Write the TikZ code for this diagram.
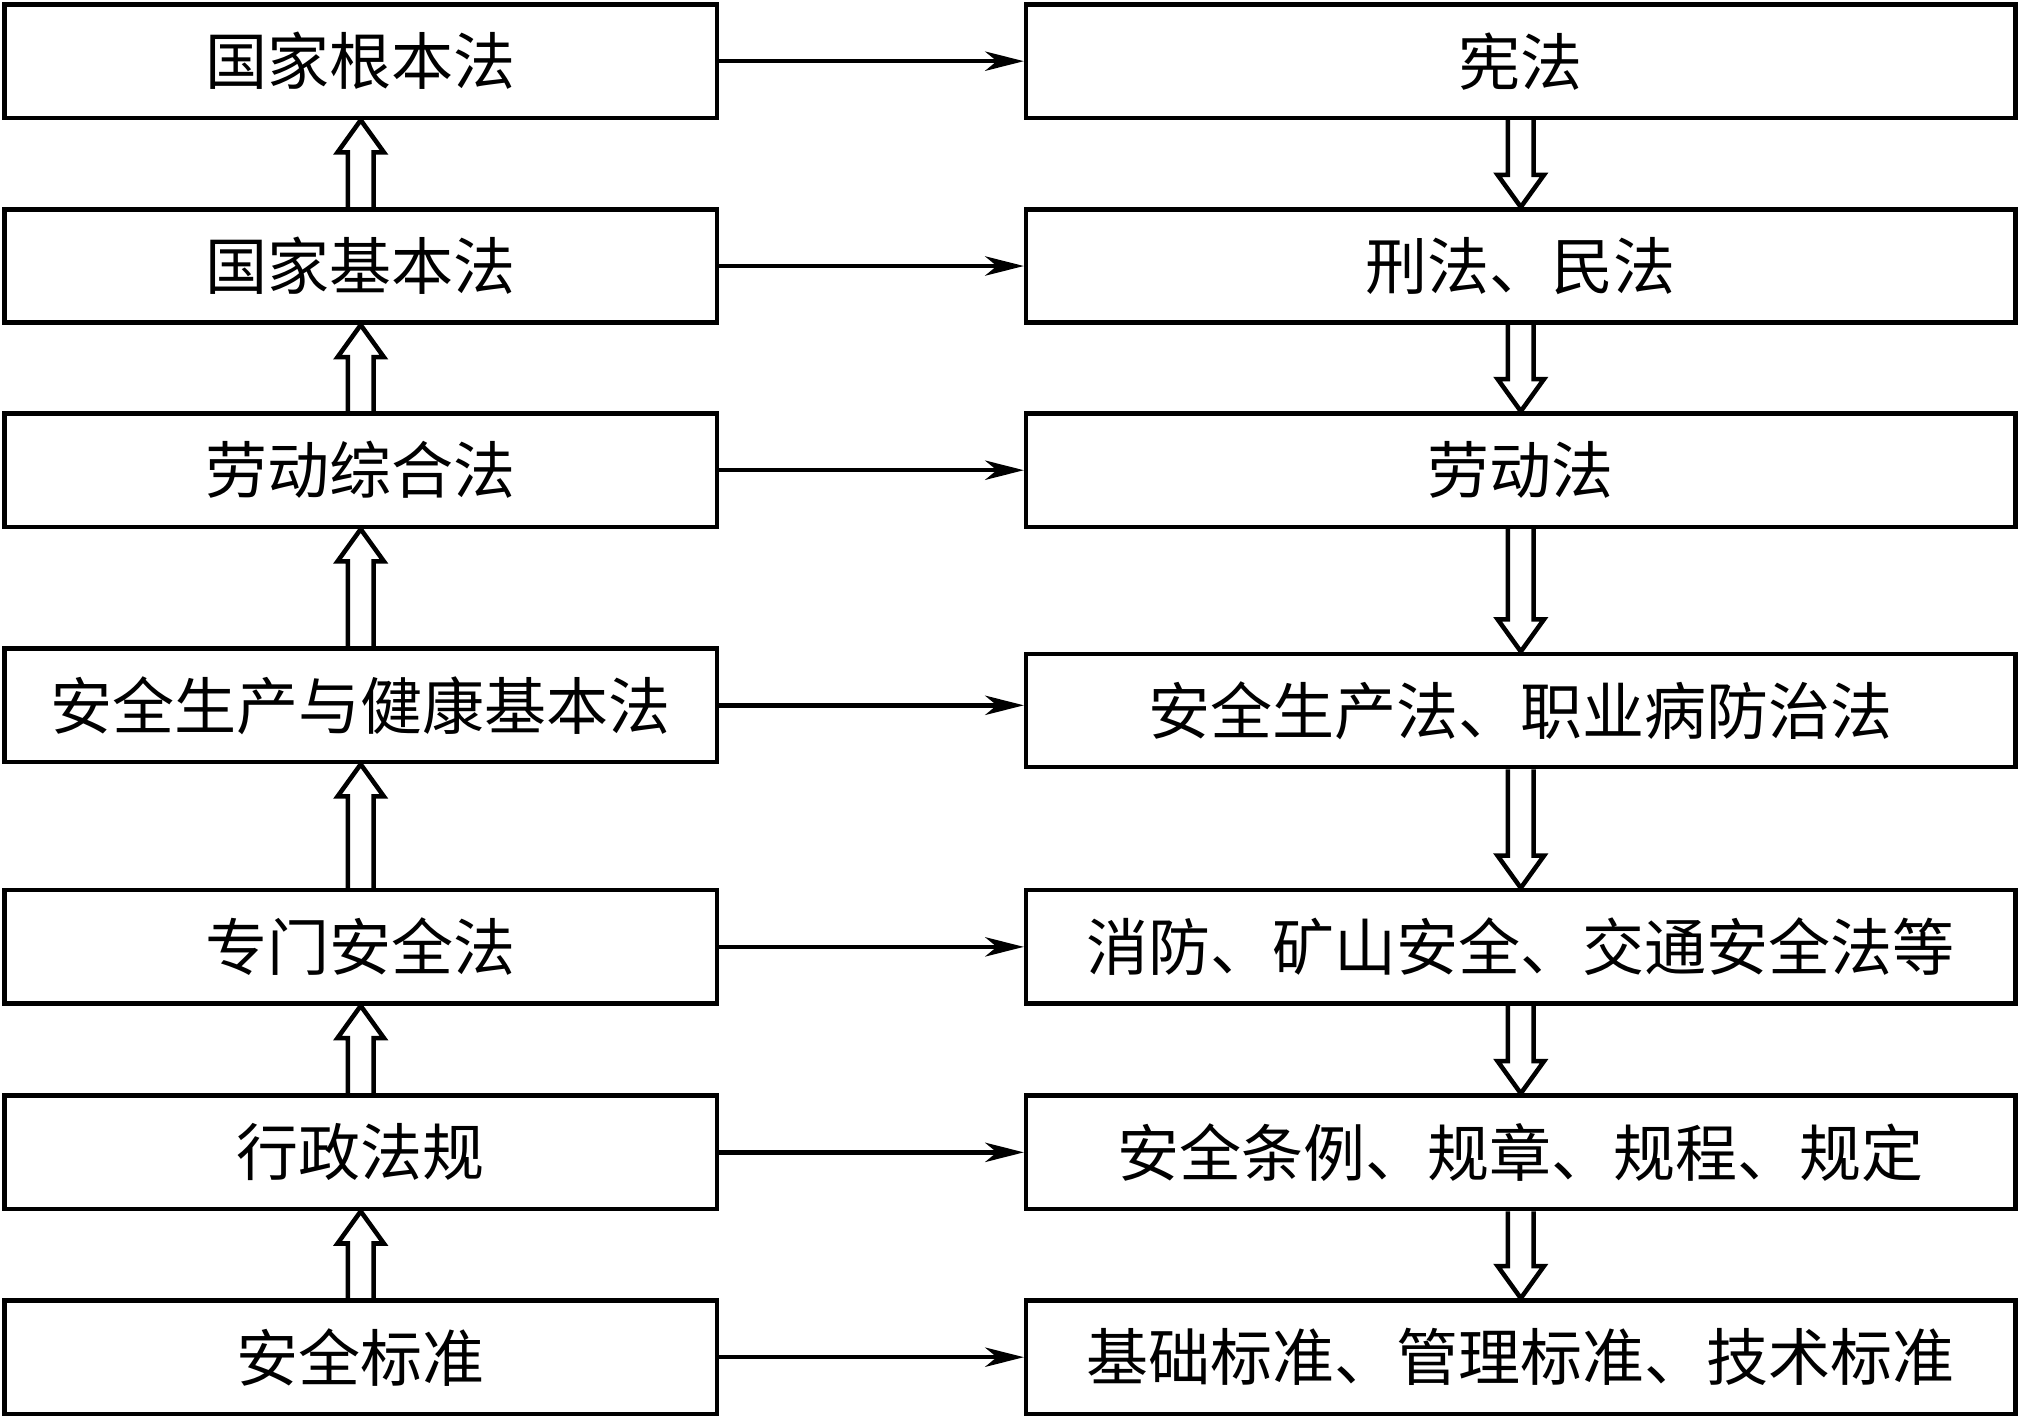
\documentclass[tikz,border=0pt]{standalone}
\usepackage{fontspec}
\setmainfont{Noto Sans CJK SC}
\usetikzlibrary{arrows.meta}
\usetikzlibrary{calc}

\newcommand{\hollowup}[2]{\draw[lineStyle] ($(#1.north)+(-0.1,0)$) -- ($(#2.south)+(-0.1,-0.25)$) -- ($(#2.south)+(-0.18,-0.25)$) -- (#2.south) -- ($(#2.south)+(0.18,-0.25)$) -- ($(#2.south)+(0.1,-0.25)$) -- ($(#1.north)+(0.1,0)$);}
\newcommand{\hollowdown}[2]{\draw[lineStyle] ($(#1.south)+(-0.1,0)$) -- ($(#2.north)+(-0.1,0.25)$) -- ($(#2.north)+(-0.18,0.25)$) -- (#2.north) -- ($(#2.north)+(0.18,0.25)$) -- ($(#2.north)+(0.1,0.25)$) -- ($(#1.south)+(0.1,0)$);}

\begin{document}
\begin{tikzpicture}[font=\fontsize{13.7pt}{16pt}\selectfont]
\tikzstyle{lineStyle} = [line width = 1pt, line join = miter]
\tikzstyle{leftStyle} = [shape = rectangle, draw, line width = 1pt, minimum width = 5.53cm, minimum height = 0.88cm, inner sep = 0pt]
\tikzstyle{rightStyle} = [shape = rectangle, draw, line width = 1pt, minimum width = 7.68cm, minimum height = 0.88cm, inner sep = 0pt]
\tikzstyle{EdgeStyle} = [line width = 1pt, -{Stealth[length = 3mm, width = 1.5mm, inset = 0.9mm]}]
\useasboundingbox (0,0) rectangle (15.68,-11.01);
% left column
\node[leftStyle] (l1) at (2.80,-0.475) {国家根本法};
\node[leftStyle] (l2) at (2.80,-2.065) {国家基本法};
\node[leftStyle] (l3) at (2.80,-3.65) {劳动综合法};
\node[leftStyle] (l4) at (2.80,-5.475) {安全生产与健康基本法};
\node[leftStyle] (l5) at (2.80,-7.35) {专门安全法};
\node[leftStyle] (l6) at (2.80,-8.945) {行政法规};
\node[leftStyle] (l7) at (2.80,-10.535) {安全标准};
% right column
\node[rightStyle] (r1) at (11.805,-0.475) {宪法};
\node[rightStyle] (r2) at (11.805,-2.065) {刑法、民法};
\node[rightStyle] (r3) at (11.805,-3.65) {劳动法};
\node[rightStyle] (r4) at (11.805,-5.515) {安全生产法、职业病防治法};
\node[rightStyle] (r5) at (11.805,-7.35) {消防、矿山安全、交通安全法等};
\node[rightStyle] (r6) at (11.805,-8.945) {安全条例、规章、规程、规定};
\node[rightStyle] (r7) at (11.805,-10.535) {基础标准、管理标准、技术标准};
% horizontal arrows
\draw[EdgeStyle] (l1.east) -- (r1.west);
\draw[EdgeStyle] (l2.east) -- (r2.west);
\draw[EdgeStyle] (l3.east) -- (r3.west);
\draw[EdgeStyle] (l4.east) -- (l4.east -| r4.west);
\draw[EdgeStyle] (l5.east) -- (r5.west);
\draw[EdgeStyle] (l6.east) -- (r6.west);
\draw[EdgeStyle] (l7.east) -- (r7.west);
% hollow arrows
\hollowup{l2}{l1}
\hollowup{l3}{l2}
\hollowup{l4}{l3}
\hollowup{l5}{l4}
\hollowup{l6}{l5}
\hollowup{l7}{l6}
\hollowdown{r1}{r2}
\hollowdown{r2}{r3}
\hollowdown{r3}{r4}
\hollowdown{r4}{r5}
\hollowdown{r5}{r6}
\hollowdown{r6}{r7}
\end{tikzpicture}
\end{document}
